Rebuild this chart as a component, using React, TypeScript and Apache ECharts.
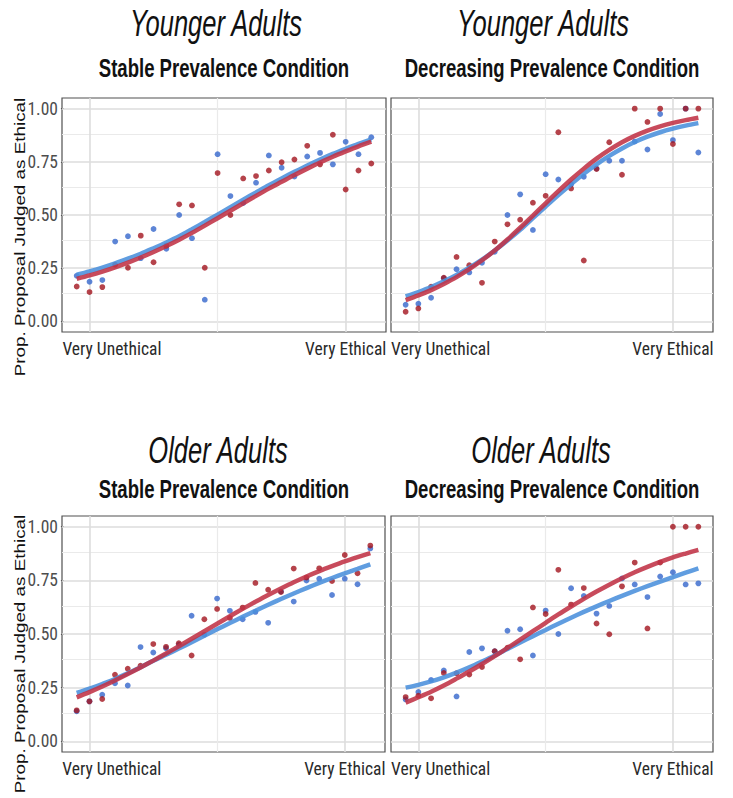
import React, { useEffect, useRef } from "react";
import * as echarts from "echarts";

// ---------- data ----------
const xPositions = [1, 2, 3, 4, 5, 6, 7, 8, 9, 10, 11, 12, 13, 14, 15, 16, 17, 18, 19, 20, 21, 22, 23, 24];

// Younger Adults – Stable
const youngStableBlue = [0.214, 0.186, 0.194, 0.375, 0.40, 0.297, 0.434, 0.341, 0.50, 0.391, 0.102, 0.786, 0.589, 0.556, 0.652, 0.780, 0.722, 0.681, 0.775, 0.792, 0.738, 0.844, 0.786, 0.866];
const youngStableRed = [0.164, 0.1375, 0.161, 0.266, 0.252, 0.403, 0.278, 0.356, 0.55, 0.545, 0.252, 0.697, 0.50, 0.672, 0.683, 0.709, 0.748, 0.761, 0.825, 0.738, 0.877, 0.620, 0.709, 0.742];
// Younger Adults – Decreasing
const youngDecBlue = [0.078, 0.083, 0.111, 0.203, 0.245, 0.23, 0.275, 0.327, 0.50, 0.597, 0.43, 0.692, 0.667, 0.644, 0.68, 0.719, 0.755, 0.755, 0.845, 0.808, 0.975, 0.852, 1.0, 0.794];
const youngDecRed = [0.045, 0.061, 0.1625, 0.205, 0.303, 0.264, 0.181, 0.375, 0.456, 0.478, 0.558, 0.59, 0.889, 0.625, 0.286, 0.716, 0.842, 0.689, 1.0, 0.9375, 1.0, 0.834, 1.0, 1.0];
// Older Adults – Stable
const oldStableBlue = [0.14, 0.186, 0.217, 0.27, 0.26, 0.439, 0.414, 0.434, 0.45, 0.585, 0.496, 0.665, 0.608, 0.569, 0.603, 0.552, 0.698, 0.651, 0.749, 0.758, 0.682, 0.758, 0.732, 0.899];
const oldStableRed = [0.144, 0.186, 0.197, 0.31, 0.338, 0.352, 0.453, 0.44, 0.457, 0.40, 0.569, 0.617, 0.575, 0.623, 0.738, 0.706, 0.696, 0.805, 0.763, 0.806, 0.747, 0.868, 0.783, 0.912];
// Older Adults – Decreasing
const oldDecBlue = [0.195, 0.23, 0.286, 0.33, 0.209, 0.416, 0.433, 0.42, 0.515, 0.522, 0.40, 0.609, 0.50, 0.713, 0.677, 0.595, 0.631, 0.759, 0.731, 0.672, 0.768, 0.788, 0.731, 0.736];
const oldDecRed = [0.206, 0.212, 0.20, 0.318, 0.317, 0.311, 0.346, 0.42, 0.436, 0.382, 0.624, 0.593, 0.799, 0.637, 0.714, 0.549, 0.499, 0.722, 0.833, 0.526, 0.833, 1.0, 1.0, 1.0];

// fitted curves, read at every x position
const fitYoungStableBlue = [0.219, 0.235, 0.253, 0.273, 0.295, 0.318, 0.344, 0.371, 0.40, 0.433, 0.467, 0.502, 0.537, 0.572, 0.606, 0.64, 0.672, 0.703, 0.733, 0.761, 0.787, 0.811, 0.834, 0.855];
const fitYoungStableRed = [0.20, 0.216, 0.234, 0.254, 0.276, 0.30, 0.326, 0.354, 0.384, 0.416, 0.45, 0.485, 0.52, 0.555, 0.59, 0.624, 0.656, 0.688, 0.718, 0.747, 0.774, 0.799, 0.823, 0.845];
const fitYoungDecBlue = [0.117, 0.138, 0.161, 0.188, 0.218, 0.252, 0.29, 0.333, 0.38, 0.43, 0.485, 0.54, 0.594, 0.645, 0.694, 0.738, 0.778, 0.813, 0.843, 0.868, 0.889, 0.906, 0.92, 0.932];
const fitYoungDecRed = [0.10, 0.122, 0.147, 0.176, 0.208, 0.245, 0.287, 0.333, 0.385, 0.44, 0.497, 0.555, 0.612, 0.667, 0.718, 0.765, 0.806, 0.842, 0.872, 0.897, 0.917, 0.933, 0.946, 0.957];
const fitOldStableBlue = [0.225, 0.245, 0.267, 0.29, 0.317, 0.345, 0.375, 0.403, 0.432, 0.462, 0.492, 0.522, 0.551, 0.58, 0.608, 0.636, 0.663, 0.689, 0.714, 0.738, 0.761, 0.783, 0.804, 0.825];
const fitOldStableRed = [0.205, 0.229, 0.255, 0.283, 0.313, 0.344, 0.376, 0.409, 0.443, 0.478, 0.513, 0.548, 0.583, 0.617, 0.65, 0.682, 0.712, 0.741, 0.768, 0.793, 0.816, 0.838, 0.858, 0.877];
const fitOldDecBlue = [0.25, 0.263, 0.279, 0.298, 0.32, 0.345, 0.372, 0.40, 0.43, 0.46, 0.49, 0.519, 0.548, 0.576, 0.603, 0.629, 0.654, 0.678, 0.701, 0.723, 0.744, 0.765, 0.786, 0.806];
const fitOldDecRed = [0.18, 0.205, 0.231, 0.26, 0.292, 0.325, 0.36, 0.397, 0.435, 0.474, 0.513, 0.552, 0.591, 0.628, 0.664, 0.698, 0.73, 0.76, 0.788, 0.813, 0.836, 0.857, 0.875, 0.892];

// axis ticks / labels
const yTickValues = [0, 0.25, 0.5, 0.75, 1];
const yMinorValues = [0.125, 0.375, 0.625, 0.875];
const xBreakValues = [2, 22];
const xMinorValues = [12];
const xLabelValues = [3.75, 22];
const xLabelTexts = ["Very Unethical", "Very Ethical"];
const panelTitles = ["Younger Adults", "Younger Adults", "Older Adults", "Older Adults"];
const panelSubtitles = ["Stable Prevalence Condition", "Decreasing Prevalence Condition", "Stable Prevalence Condition", "Decreasing Prevalence Condition"];
const yAxisTitle = "Prop. Proposal Judged as Ethical";

// ---------- styles / layout ----------
const NARROW = "'Liberation Sans Narrow','Arial Narrow','Roboto Condensed','DejaVu Sans Condensed',sans-serif";
const SANS = "'Liberation Sans',Arial,Helvetica,sans-serif";
const BLUE_PT = "#3566cc";
const RED_PT = "#a3141e";
const BLUE_LN = "rgba(74,144,220,0.88)";
const RED_LN = "rgba(192,50,70,0.88)";

const panels = [
  { left: 62, top: 98, width: 324, height: 234, blue: youngStableBlue, red: youngStableRed, fb: fitYoungStableBlue, fr: fitYoungStableRed, showY: true, tx: 216, ty: 23.4, sx: 224, sy: 67.8 },
  { left: 391, top: 98, width: 322, height: 234, blue: youngDecBlue, red: youngDecRed, fb: fitYoungDecBlue, fr: fitYoungDecRed, showY: false, tx: 543, ty: 23.4, sx: 552, sy: 67.8 },
  { left: 62, top: 516, width: 323, height: 236, blue: oldStableBlue, red: oldStableRed, fb: fitOldStableBlue, fr: fitOldStableRed, showY: true, tx: 218, ty: 450, sx: 224, sy: 488.8 },
  { left: 391, top: 516, width: 322, height: 236, blue: oldDecBlue, red: oldDecRed, fb: fitOldDecBlue, fr: fitOldDecRed, showY: false, tx: 541, ty: 450, sx: 552, sy: 488.8 },
];

function buildOption() {
  const grid: any[] = [];
  const xAxis: any[] = [];
  const yAxis: any[] = [];
  const series: any[] = [];
  const graphic: any[] = [];

  const gridLines = [
    ...yTickValues.map((v) => ({ yAxis: v, lineStyle: { color: "#dddddd", width: 1.6, type: "solid" } })),
    ...yMinorValues.map((v) => ({ yAxis: v, lineStyle: { color: "#eaeaea", width: 1.2, type: "solid" } })),
    ...xBreakValues.map((v) => ({ xAxis: v, lineStyle: { color: "#dddddd", width: 1.6, type: "solid" } })),
    ...xMinorValues.map((v) => ({ xAxis: v, lineStyle: { color: "#eaeaea", width: 1.2, type: "solid" } })),
  ];

  panels.forEach((p, i) => {
    grid.push({
      left: p.left, top: p.top, width: p.width, height: p.height,
      show: true, borderColor: "#505050", borderWidth: 1.2, backgroundColor: "#fff",
    });
    xAxis.push({
      type: "value", gridIndex: i, min: -0.15, max: 25.15,
      axisLine: { show: false }, axisTick: { show: false }, splitLine: { show: false },
      axisLabel: {
        show: true, customValues: xLabelValues,
        formatter: (v: number) => xLabelTexts[xLabelValues.indexOf(v)] ?? "",
        fontFamily: NARROW, fontSize: 17.5, color: "#2a2a2a", margin: 8,
      },
    });
    yAxis.push({
      type: "value", gridIndex: i, min: -0.05, max: 1.05,
      axisLine: { show: false },
      axisTick: { show: p.showY, customValues: yTickValues, length: 3, lineStyle: { color: "#555" } },
      splitLine: { show: false },
      axisLabel: {
        show: p.showY, customValues: yTickValues,
        formatter: (v: number) => v.toFixed(2),
        fontFamily: NARROW, fontSize: 17.5, color: "#4d4d4d", margin: 4,
      },
    });
    series.push({
      type: "scatter", name: "Blue", xAxisIndex: i, yAxisIndex: i, z: 2,
      symbolSize: 5.8, itemStyle: { color: BLUE_PT },
      data: xPositions.map((x, k) => [x, p.blue[k]]),
      markLine: {
        silent: true, z: 1, symbol: ["none", "none"], label: { show: false },
        animation: false, data: gridLines,
      },
    });
    series.push({
      type: "scatter", name: "Red", xAxisIndex: i, yAxisIndex: i, z: 2,
      symbolSize: 5.8, itemStyle: { color: RED_PT },
      data: xPositions.map((x, k) => [x, p.red[k]]),
    });
    series.push({
      type: "line", name: "Blue fit", xAxisIndex: i, yAxisIndex: i, z: 3,
      smooth: 0.3, showSymbol: false, symbol: "none",
      lineStyle: { color: BLUE_LN, width: 4.5 },
      data: xPositions.map((x, k) => [x, p.fb[k]]),
    });
    series.push({
      type: "line", name: "Red fit", xAxisIndex: i, yAxisIndex: i, z: 4,
      smooth: 0.3, showSymbol: false, symbol: "none",
      lineStyle: { color: RED_LN, width: 4.5 },
      data: xPositions.map((x, k) => [x, p.fr[k]]),
    });

    graphic.push({
      type: "text", x: p.tx, y: p.ty, scaleX: 0.69,
      style: {
        text: panelTitles[i], fill: "#111", fontFamily: SANS, fontStyle: "italic",
        fontSize: 37, align: "center", verticalAlign: "middle",
      },
    });
    graphic.push({
      type: "text", x: p.sx, y: p.sy, scaleX: 0.7,
      style: {
        text: panelSubtitles[i], fill: "#111", fontFamily: SANS, fontWeight: "bold",
        fontSize: 26.5, align: "center", verticalAlign: "middle",
      },
    });
  });

  [237, 654].forEach((cy) => {
    graphic.push({
      type: "text", x: 20.5, y: cy, rotation: Math.PI / 2, scaleX: 1.3,
      style: {
        text: yAxisTitle, fill: "#111", fontFamily: SANS, fontSize: 14.5,
        align: "center", verticalAlign: "middle",
      },
    });
  });

  return {
    animation: false,
    backgroundColor: "#fff",
    grid, xAxis, yAxis, series, graphic,
  };
}

export default function App() {
  const ref = useRef<HTMLDivElement>(null);
  useEffect(() => {
    if (!ref.current) return;
    const chart = echarts.init(ref.current, undefined, { renderer: "svg" });
    chart.setOption(buildOption() as any);
    return () => chart.dispose();
  }, []);
  return (
    <div
      ref={ref}
      style={{ position: "fixed", left: 0, top: 0, width: 733, height: 798, background: "#fff" }}
    />
  );
}
